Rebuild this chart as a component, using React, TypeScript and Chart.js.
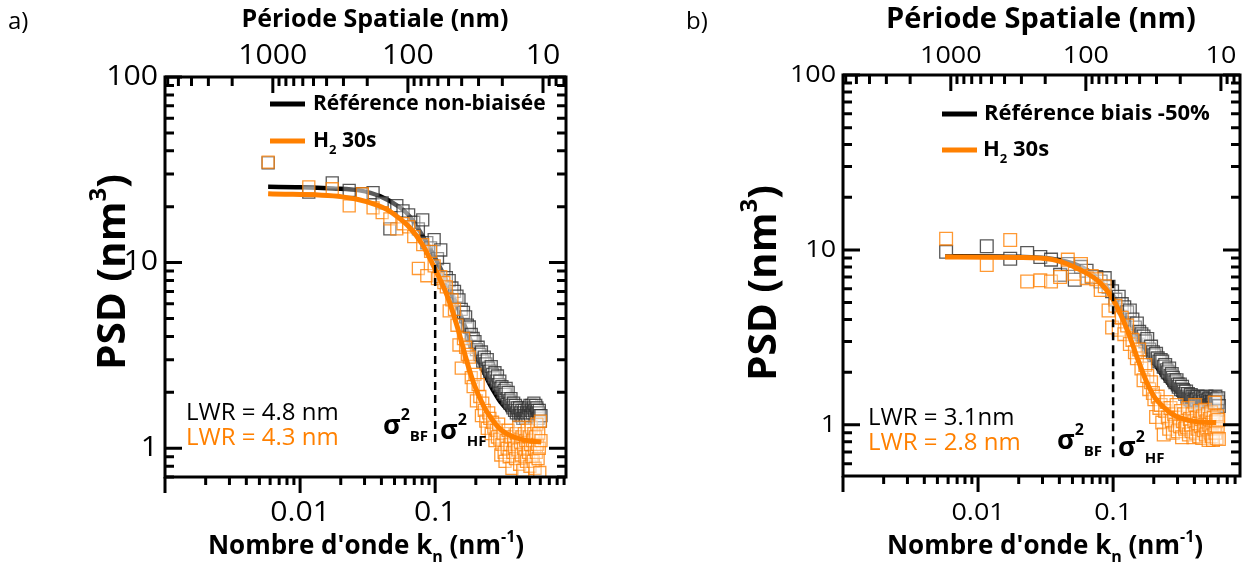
import React, { useEffect, useRef } from "react";
import { Chart, registerables } from "chart.js";

Chart.register(...registerables);

// ---------- DATA ----------
// wavenumbers k_n (nm^-1), shared by both panels
const K = [
  0.0058, 0.0116, 0.0173, 0.0231, 0.0289, 0.0347, 0.0405, 0.0462, 0.052, 0.0578,
  0.0636, 0.0694, 0.0751, 0.0809, 0.0867, 0.0925, 0.0983, 0.104, 0.11, 0.116,
  0.121, 0.127, 0.133, 0.139, 0.145, 0.15, 0.156, 0.162, 0.168, 0.173,
  0.179, 0.185, 0.191, 0.197, 0.202, 0.208, 0.214, 0.22, 0.225, 0.231,
  0.237, 0.243, 0.249, 0.254, 0.26, 0.266, 0.272, 0.277, 0.283, 0.289,
  0.295, 0.301, 0.306, 0.312, 0.318, 0.324, 0.329, 0.335, 0.341, 0.347,
  0.353, 0.358, 0.364, 0.37, 0.376, 0.381, 0.387, 0.393, 0.399, 0.405,
  0.41, 0.416, 0.422, 0.428, 0.433, 0.439, 0.445, 0.451, 0.457, 0.462,
  0.468, 0.474, 0.48, 0.486, 0.491, 0.497, 0.503, 0.509, 0.514, 0.52,
  0.526, 0.532, 0.538, 0.543, 0.549, 0.555, 0.561, 0.566, 0.572, 0.578,
  0.584, 0.59, 0.595, 0.601, 0.607,
];

// Panel a) — Référence non-biaisée (black squares)
const A_REF = [
  34.5, 24, 26.9, 24.5, 23.5, 23.8, 21, 15.2, 20.3, 19,
  18.1, 16.5, 15.2, 17, 12.8, 12, 13.3, 10.5, 11.7, 9.2,
  8.3, 8, 7.3, 7, 6.6, 6.3, 5.6, 5.4, 5.1, 4.6,
  4.5, 4.1, 3.9, 3.75, 3.4, 3.5, 3.2, 3.3, 2.95, 3.1,
  2.85, 3, 2.7, 2.6, 2.75, 2.5, 2.4, 2.55, 2.3, 2.45,
  2.2, 2.3, 2.1, 2.15, 2, 2.05, 1.95, 2.1, 1.85, 2,
  1.8, 1.75, 1.85, 1.7, 1.65, 1.75, 1.6, 1.7, 1.55, 1.65,
  1.6, 1.5, 1.65, 1.55, 1.5, 1.6, 1.45, 1.55, 1.6, 1.5,
  1.45, 1.55, 1.6, 1.5, 1.65, 1.55, 1.7, 1.5, 1.6, 1.7,
  1.55, 1.65, 1.75, 1.6, 1.5, 1.7, 1.55, 1.65, 1.6, 1.45,
  1.55, 1.6, 1.5, 1.4, 1.5,
];
// Panel a) — H2 30s (orange squares)
const A_H2 = [
  34.8, 25.6, 25, 20.2, 23.5, 19.7, 18.6, 17.2, 15.2, 16.2,
  15.6, 13.8, 9.3, 12.5, 8.5, 11.5, 9.6, 8.2, 8.4, 7.8,
  7.4, 5.5, 6.3, 5.6, 4.6, 3.6, 2.7, 3.9, 3.5, 3.2,
  3.1, 2.4, 2.15, 2.5, 1.8, 2.2, 1.9, 1.5, 1.75, 1.6,
  1.4, 1.28, 1.55, 1.45, 1.2, 1.38, 1.3, 1.1, 1.25, 1.15,
  1.35, 1.12, 0.92, 1.05, 1.2, 0.95, 0.85, 1.1, 1, 1.25,
  0.9, 1.05, 1.15, 0.78, 0.95, 1.1, 1, 0.88, 1.2, 1.05,
  0.98, 1.3, 0.82, 1.08, 0.92, 1.15, 0.76, 1, 1.2, 0.9,
  1.1, 0.85, 1.25, 1, 0.95, 1.15, 0.8, 1.05, 1.3, 0.9,
  1.1, 0.85, 1.2, 1, 0.78, 1.15, 0.95, 1.35, 1.05, 0.88,
  1.2, 1, 0.74, 1.4, 1.1,
];
// Panel a) fitted curves
const A_REF_FIT_K = [0.0058, 0.01, 0.0175, 0.0275, 0.039, 0.055, 0.065, 0.08, 0.09, 0.1035, 0.125, 0.146, 0.165, 0.182, 0.2, 0.217, 0.24, 0.257, 0.28, 0.305, 0.33, 0.35];
const A_REF_FIT = [25.6, 25.5, 25.1, 24.5, 22.8, 19.8, 17.7, 14.1, 12.2, 10.1, 7.6, 5.8, 4.6, 3.86, 3.25, 2.8, 2.4, 2.17, 1.95, 1.77, 1.66, 1.58];
const A_H2_FIT_K = [0.0058, 0.0206, 0.031, 0.044, 0.055, 0.064, 0.08, 0.1, 0.123, 0.146, 0.168, 0.192, 0.229, 0.26, 0.29, 0.33, 0.382, 0.45, 0.52, 0.61];
const A_H2_FIT = [23.5, 22.6, 21.3, 19.3, 17.2, 15.6, 12.6, 9.2, 6.6, 4.5, 3.1, 2.26, 1.68, 1.45, 1.31, 1.21, 1.15, 1.11, 1.09, 1.08];
const A_CUT = [9.7, 1.07]; // vertical dashed line at k = 0.1

// Panel b) — Référence biais -50% (black squares)
const B_REF = [
  9.75, 10.5, 8.9, 9.6, 9.1, 8.8, 7.2, 8.3, 6.75, 8,
  7.6, 7, 7, 6.6, 6.9, 6.15, 5.8, 5.2, 5.4, 4.9,
  4.7, 4.4, 4.5, 4, 3.6, 3.8, 3.4, 3.3, 3.2, 3,
  3.1, 2.7, 2.8, 2.6, 2.5, 2.55, 2.4, 2.3, 2.35, 2.3,
  2.15, 2.2, 2.05, 2, 2.1, 1.9, 1.95, 1.86, 1.8, 1.75,
  1.8, 1.7, 1.65, 1.7, 1.6, 1.65, 1.58, 1.55, 1.5, 1.55,
  1.45, 1.5, 1.42, 1.4, 1.48, 1.38, 1.45, 1.35, 1.42, 1.4,
  1.38, 1.39, 1.45, 1.32, 1.4, 1.36, 1.44, 1.3, 1.38, 1.42,
  1.35, 1.4, 1.3, 1.37, 1.45, 1.33, 1.38, 1.28, 1.4, 1.35,
  1.42, 1.3, 1.36, 1.4, 1.35, 1.25, 1.38, 1.32, 1.45, 1.3,
  1.4, 1.22, 1.35, 1.42, 1.28,
];
// Panel b) — H2 30s (orange squares)
const B_H2 = [
  11.6, 8.2, 11.4, 6.6, 6.7, 6.6, 7, 8.8, 7.3, 8.3,
  6.9, 7.1, 6.8, 5.9, 6.2, 4.5, 3.6, 4.8, 3.5, 4.1,
  3.3, 3.7, 2.9, 3.06, 2.6, 2.4, 2.7, 2.1, 1.8, 2.2,
  1.9, 1.6, 1.75, 1.52, 1.4, 1.11, 1.45, 1.25, 1.3, 1.03,
  0.88, 1.2, 1.35, 1.1, 0.95, 1.25, 1.05, 0.9, 1.15, 1,
  1.3, 0.92, 1.1, 0.98, 1.2, 0.85, 1.05, 1.15, 0.95, 1,
  0.97, 1.25, 0.88, 1.08, 1, 0.92, 1.15, 0.85, 1.05, 1.3,
  0.9, 1.1, 0.95, 1.02, 0.86, 1.2, 0.98, 1.08, 0.84, 1.12,
  0.93, 1, 1.22, 0.88, 1.05, 0.95, 1.15, 0.82, 1, 1.08,
  0.9, 1.18, 0.86, 1.03, 0.82, 1.1, 0.95, 1.34, 0.9, 1.05,
  0.84, 1.12, 0.97, 1.07, 0.83,
];
// Panel b) fitted curves
const B_REF_FIT_K = [0.0057, 0.02, 0.04, 0.06, 0.08, 0.1, 0.115, 0.13, 0.15, 0.18, 0.21, 0.24, 0.27, 0.3];
const B_REF_FIT = [9.2, 9.15, 8.75, 7.9, 6.7, 5.5, 4.6, 3.95, 3.35, 2.6, 2.15, 1.85, 1.65, 1.55];
const B_H2_FIT_K = [0.0057, 0.02, 0.0357, 0.057, 0.08, 0.1, 0.127, 0.15, 0.178, 0.205, 0.235, 0.27, 0.31, 0.42, 0.58];
const B_H2_FIT = [9.1, 9.05, 8.8, 7.7, 6.5, 5.2, 3.5, 2.45, 1.74, 1.42, 1.27, 1.16, 1.1, 1.04, 1.03];
const B_CUT = [6.7, 0.62];

const CUT_K = 0.1;

// tick labels
const X_TICK_LABELS = [0.01, 0.1];
const TOP_TICK_LABELS = [1000, 100, 10];
const Y_TICK_LABELS = [1, 10, 100];

// ---------- STYLE ----------
const FONT = "'Open Sans', 'DejaVu Sans', sans-serif";
const ORANGE = "#ff8000";
const W = 1245;
const H = 565;

type Part = { t: string; s?: number; dy?: number };

function rich(
  ctx: CanvasRenderingContext2D,
  parts: Part[],
  x: number,
  y: number,
  size: number,
  weight: string,
  color: string,
  align: "left" | "center" | "right",
  sx = 1
) {
  ctx.save();
  ctx.fillStyle = color;
  ctx.textBaseline = "middle";
  ctx.textAlign = "left";
  const fonts = parts.map((p) => `${weight} ${Math.round(size * (p.s ?? 1))}px ${FONT}`);
  let w = 0;
  const ws = parts.map((p, i) => {
    ctx.font = fonts[i];
    const m = ctx.measureText(p.t).width;
    w += m;
    return m;
  });
  let cx = align === "center" ? -w / 2 : align === "right" ? -w : 0;
  ctx.translate(x, y);
  ctx.scale(sx, 1);
  parts.forEach((p, i) => {
    ctx.font = fonts[i];
    ctx.fillText(p.t, cx, (p.dy ?? 0) * size);
    cx += ws[i];
  });
  ctx.restore();
}

function logTicks(min: number, max: number) {
  const out: { v: number; major: boolean }[] = [];
  const e0 = Math.floor(Math.log10(min));
  const e1 = Math.ceil(Math.log10(max));
  for (let e = e0; e <= e1; e++) {
    for (let m = 1; m <= 9; m++) {
      const v = m * Math.pow(10, e);
      if (v >= min * 0.999 && v <= max * 1.001) out.push({ v, major: m === 1 });
    }
  }
  return out;
}

interface Panel {
  offset: number;
  width: number;
  area: { left: number; right: number; top: number; bottom: number };
  xMin: number;
  xMax: number;
  yMin: number;
  yMax: number;
  ref: number[];
  h2: number[];
  refFitK: number[];
  refFit: number[];
  h2FitK: number[];
  h2Fit: number[];
  cut: number[];
  pointR: number;
  tickSize: number;
  tickSx: number;
  topTitleSize: number;
  bottomTitleSize: number;
  yTitleSize: number;
  legendSize: number;
  lwrSize: number;
  letter: string;
  letterPos: [number, number];
  topTitlePos: [number, number];
  bottomTitlePos: [number, number];
  yTitlePos: [number, number];
  legendLines: { x1: number; x2: number; y: number; color: string }[];
  legendTexts: { x: number; y: number; parts: Part[] }[];
  lwr: { x: number; y: number; t: string; color: string }[];
  sigma: { x: number; y: number; sub: string }[];
}

const PANELS: Panel[] = [
  {
    offset: 0,
    width: 622,
    area: { left: 165, right: 566, top: 77, bottom: 477 },
    xMin: 0.001,
    xMax: 0.93,
    yMin: 0.7,
    yMax: 100,
    ref: A_REF,
    h2: A_H2,
    refFitK: A_REF_FIT_K,
    refFit: A_REF_FIT,
    h2FitK: A_H2_FIT_K,
    h2Fit: A_H2_FIT,
    cut: A_CUT,
    pointR: 8.5,
    tickSize: 27,
    tickSx: 1.12,
    topTitleSize: 24.5,
    bottomTitleSize: 26,
    yTitleSize: 38.5,
    legendSize: 21,
    lwrSize: 24,
    letter: "a)",
    letterPos: [8, 22],
    topTitlePos: [375, 20],
    bottomTitlePos: [366, 547],
    yTitlePos: [114, 272],
    legendLines: [
      { x1: 270, x2: 305, y: 104, color: "#000" },
      { x1: 270, x2: 305, y: 141, color: ORANGE },
    ],
    legendTexts: [
      { x: 313, y: 104, parts: [{ t: "Référence non-biaisée" }] },
      { x: 313, y: 141, parts: [{ t: "H" }, { t: "2", s: 0.6, dy: 0.42 }, { t: " 30s" }] },
    ],
    lwr: [
      { x: 186, y: 413, t: "LWR = 4.8 nm", color: "#000" },
      { x: 186, y: 438, t: "LWR = 4.3 nm", color: ORANGE },
    ],
    sigma: [
      { x: 383, y: 426, sub: "BF" },
      { x: 440, y: 431, sub: "HF" },
    ],
  },
  {
    offset: 622,
    width: 623,
    area: { left: 221, right: 618, top: 75, bottom: 476 },
    xMin: 0.001,
    xMax: 0.87,
    yMin: 0.51,
    yMax: 100,
    ref: B_REF,
    h2: B_H2,
    refFitK: B_REF_FIT_K,
    refFit: B_REF_FIT,
    h2FitK: B_H2_FIT_K,
    h2Fit: B_H2_FIT,
    cut: B_CUT,
    pointR: 9,
    tickSize: 24,
    tickSx: 1.12,
    topTitleSize: 28.5,
    bottomTitleSize: 26,
    yTitleSize: 38.5,
    legendSize: 22,
    lwrSize: 24,
    letter: "b)",
    letterPos: [64, 22],
    topTitlePos: [419, 20],
    bottomTitlePos: [423, 547],
    yTitlePos: [143, 283],
    legendLines: [
      { x1: 320, x2: 355, y: 114, color: "#000" },
      { x1: 320, x2: 355, y: 150, color: ORANGE },
    ],
    legendTexts: [
      { x: 362, y: 114, parts: [{ t: "Référence biais -50%" }] },
      { x: 361, y: 150, parts: [{ t: "H" }, { t: "2", s: 0.6, dy: 0.42 }, { t: " 30s" }] },
    ],
    lwr: [
      { x: 246, y: 418, t: "LWR = 3.1nm", color: "#000" },
      { x: 246, y: 443, t: "LWR = 2.8 nm", color: ORANGE },
    ],
    sigma: [
      { x: 435, y: 441, sub: "BF" },
      { x: 496, y: 448, sub: "HF" },
    ],
  },
];

function makeOverlay(p: Panel) {
  return {
    id: "overlay",
    afterDraw(chart: any) {
      const ctx: CanvasRenderingContext2D = chart.ctx;
      const { left, right, top, bottom } = chart.chartArea;
      const sx = chart.scales.x;
      const st = chart.scales.xTop;
      const sy = chart.scales.y;
      ctx.save();
      // frame
      ctx.strokeStyle = "#000";
      ctx.lineWidth = 3;
      ctx.strokeRect(left, top, right - left, bottom - top);
      ctx.lineWidth = 3;
      ctx.lineCap = "butt";
      // bottom ticks (outward)
      for (const t of logTicks(p.xMin, p.xMax)) {
        const px = sx.getPixelForValue(t.v);
        const len = t.major ? 16 : 8;
        ctx.beginPath();
        ctx.moveTo(px, bottom);
        ctx.lineTo(px, bottom + len);
        ctx.stroke();
      }
      // top ticks (inward)
      for (const t of logTicks(st.min, st.max)) {
        const px = st.getPixelForValue(t.v);
        const len = t.major ? 16 : 9;
        ctx.beginPath();
        ctx.moveTo(px, top);
        ctx.lineTo(px, top + len);
        ctx.stroke();
      }
      // left / right ticks (inward)
      for (const t of logTicks(p.yMin, p.yMax)) {
        const py = sy.getPixelForValue(t.v);
        const len = t.major ? 17 : 9;
        ctx.beginPath();
        ctx.moveTo(left, py);
        ctx.lineTo(left + len, py);
        ctx.moveTo(right, py);
        ctx.lineTo(right - len, py);
        ctx.stroke();
      }
      ctx.restore();

      // tick labels
      for (const v of X_TICK_LABELS) {
        rich(ctx, [{ t: String(v) }], sx.getPixelForValue(v), 513, p.tickSize, "normal", "#000", "center", p.tickSx);
      }
      for (const v of TOP_TICK_LABELS) {
        rich(ctx, [{ t: String(v) }], st.getPixelForValue(v), 56, p.tickSize, "normal", "#000", "center", p.tickSx);
      }
      for (const v of Y_TICK_LABELS) {
        rich(ctx, [{ t: String(v) }], left - 7, sy.getPixelForValue(v), p.tickSize, "normal", "#000", "right", p.tickSx);
      }

      // axis titles
      rich(ctx, [{ t: "Période Spatiale (nm)" }], p.topTitlePos[0], p.topTitlePos[1], p.topTitleSize, "bold", "#000", "center", 1);
      rich(
        ctx,
        [{ t: "Nombre d'onde k" }, { t: "n", s: 0.6, dy: 0.4 }, { t: " (nm" }, { t: "-1", s: 0.6, dy: -0.38 }, { t: ")" }],
        p.bottomTitlePos[0],
        p.bottomTitlePos[1],
        p.bottomTitleSize,
        "bold",
        "#000",
        "center",
        1
      );
      ctx.save();
      ctx.translate(p.yTitlePos[0], p.yTitlePos[1]);
      ctx.rotate(-Math.PI / 2);
      rich(ctx, [{ t: "PSD (nm" }, { t: "3", s: 0.6, dy: -0.38 }, { t: ")" }], 0, 0, p.yTitleSize, "bold", "#000", "center", 1.04);
      ctx.restore();

      // panel letter
      rich(ctx, [{ t: p.letter }], p.letterPos[0], p.letterPos[1], 24, "normal", "#000", "left", 1);

      // legend
      ctx.save();
      ctx.lineWidth = 5;
      for (const l of p.legendLines) {
        ctx.strokeStyle = l.color;
        ctx.beginPath();
        ctx.moveTo(l.x1, l.y);
        ctx.lineTo(l.x2, l.y);
        ctx.stroke();
      }
      ctx.restore();
      for (const t of p.legendTexts) {
        rich(ctx, t.parts, t.x, t.y, p.legendSize, "bold", "#000", "left", 1);
      }

      // LWR texts
      for (const t of p.lwr) {
        rich(ctx, [{ t: t.t }], t.x, t.y, p.lwrSize, "normal", t.color, "left", 1);
      }

      // sigma labels
      for (const s of p.sigma) {
        rich(
          ctx,
          [{ t: "σ" }, { t: "2", s: 0.6, dy: -0.38 }, { t: s.sub, s: 0.55, dy: 0.38 }],
          s.x,
          s.y,
          27,
          "bold",
          "#000",
          "left",
          1
        );
      }
    },
  };
}

function buildConfig(p: Panel): any {
  const pts = (vals: number[]) => K.map((k, i) => ({ x: k, y: vals[i] }));
  const line = (ks: number[], vals: number[]) => ks.map((k, i) => ({ x: k, y: vals[i] }));
  const hidden = { display: false };
  const axisBase = {
    type: "logarithmic",
    ticks: { display: false },
    grid: { display: false, drawTicks: false },
    border: { display: false },
  };
  return {
    type: "scatter",
    data: {
      datasets: [
        {
          label: "ref-fit",
          data: line(p.refFitK, p.refFit),
          showLine: true,
          pointRadius: 0,
          borderColor: "#000",
          borderWidth: 4.5,
          cubicInterpolationMode: "monotone",
          order: 6,
        },
        {
          label: "ref-points",
          data: pts(p.ref),
          pointStyle: "rect",
          pointRadius: p.pointR,
          pointBorderWidth: 1.3,
          pointBorderColor: "rgba(45,45,45,0.8)",
          pointBackgroundColor: "rgba(255,255,255,0.35)",
          showLine: false,
          order: 5,
        },
        {
          label: "h2-points",
          data: pts(p.h2),
          pointStyle: "rect",
          pointRadius: p.pointR,
          pointBorderWidth: 1.3,
          pointBorderColor: "rgba(255,128,0,0.8)",
          pointBackgroundColor: "rgba(255,255,255,0.35)",
          showLine: false,
          order: 4,
        },
        {
          label: "h2-fit",
          data: line(p.h2FitK, p.h2Fit),
          showLine: true,
          pointRadius: 0,
          borderColor: ORANGE,
          borderWidth: 5,
          cubicInterpolationMode: "monotone",
          order: 2,
        },
        {
          label: "cut",
          data: [
            { x: CUT_K, y: p.cut[0] },
            { x: CUT_K, y: p.cut[1] },
          ],
          showLine: true,
          pointRadius: 0,
          borderColor: "#000",
          borderWidth: 2.5,
          borderDash: [8, 5],
          order: 1,
        },
      ],
    },
    options: {
      animation: false,
      responsive: false,
      maintainAspectRatio: false,
      events: [],
      layout: { padding: 0, autoPadding: false },
      plugins: { legend: hidden, tooltip: { enabled: false }, title: hidden },
      scales: {
        x: {
          ...axisBase,
          position: "bottom",
          min: p.xMin,
          max: p.xMax,
          afterFit: (s: any) => {
            s.height = H - p.area.bottom;
          },
        },
        xTop: {
          ...axisBase,
          position: "top",
          reverse: true,
          min: (2 * Math.PI) / p.xMax,
          max: (2 * Math.PI) / p.xMin,
          afterFit: (s: any) => {
            s.height = p.area.top;
          },
        },
        y: {
          ...axisBase,
          position: "left",
          min: p.yMin,
          max: p.yMax,
          afterFit: (s: any) => {
            s.width = p.area.left;
          },
        },
        yR: {
          ...axisBase,
          position: "right",
          min: p.yMin,
          max: p.yMax,
          afterFit: (s: any) => {
            s.width = p.width - p.area.right;
          },
        },
      },
    },
    plugins: [makeOverlay(p)],
  };
}

function PanelChart({ p }: { p: Panel }) {
  const ref = useRef<HTMLCanvasElement | null>(null);
  useEffect(() => {
    if (!ref.current) return;
    const chart = new Chart(ref.current, buildConfig(p));
    return () => chart.destroy();
  }, [p]);
  return (
    <canvas
      ref={ref}
      width={p.width}
      height={H}
      style={{ position: "absolute", left: p.offset, top: 0, width: p.width, height: H }}
    />
  );
}

export default function App() {
  return (
    <div style={{ position: "absolute", left: 0, top: 0, width: W, height: H, background: "#fff" }}>
      {PANELS.map((p) => (
        <PanelChart key={p.letter} p={p} />
      ))}
    </div>
  );
}
